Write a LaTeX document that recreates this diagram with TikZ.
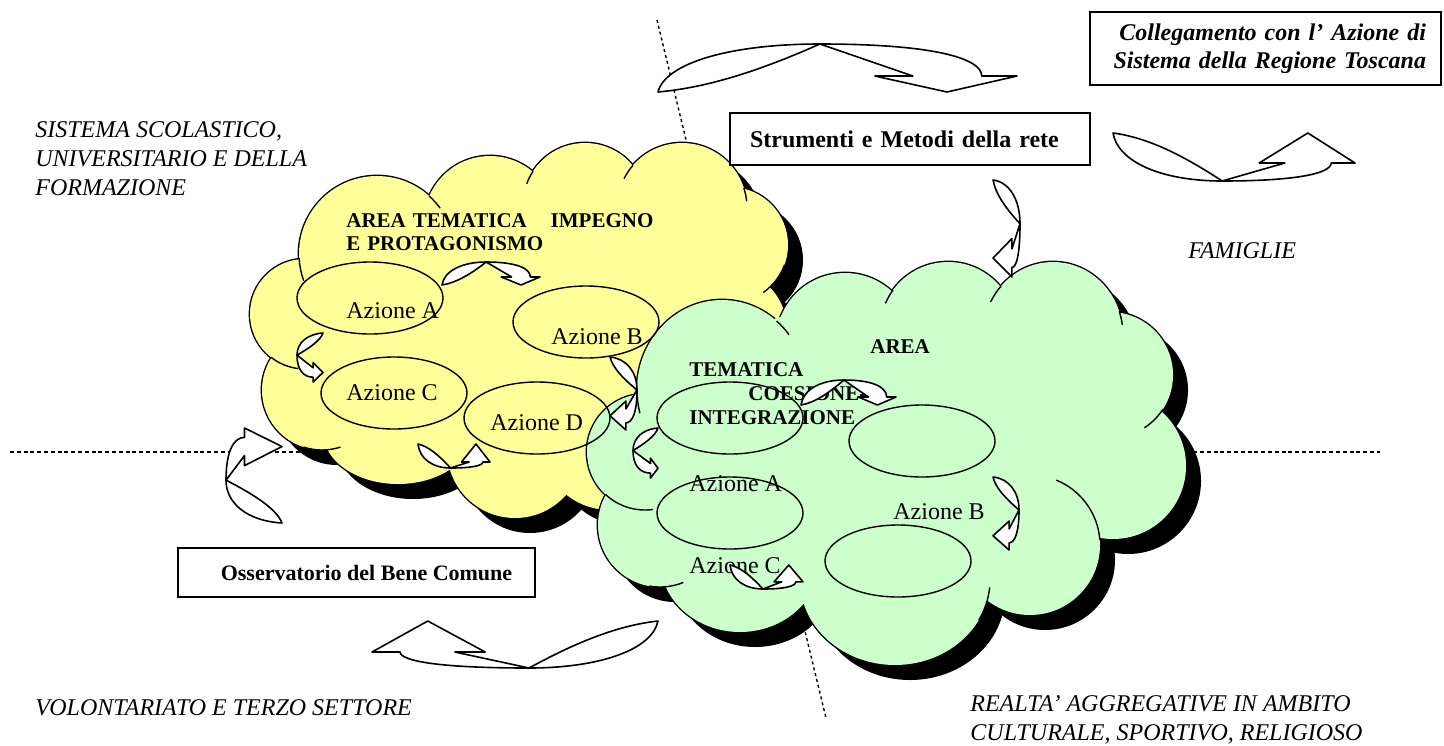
\documentclass[tikz,border=0pt]{standalone}
\usepackage{fontspec}
\setmainfont{Liberation Serif}
\usetikzlibrary{shapes.geometric}
\definecolor{cloudyellow}{HTML}{FFFF99}
\definecolor{cloudgreen}{HTML}{CCFFCC}
\tikzset{
    cloud edge/.style={draw=black, line width=1.4pt},
    cloud tail/.style={draw=black, line width=0.7pt},
    azione/.style={
        ellipse, draw, line width=0.7pt,
        minimum width=73pt, minimum height=36pt, inner sep=0pt
    },
    azione label/.style={
        anchor=base west, inner sep=0pt,
        font=\fontsize{12}{14}\selectfont
    },
    area title/.style={
        anchor=north west, inner sep=0pt, align=left,
        font=\fontsize{10.5}{11.8}\selectfont\bfseries
    },
    side text/.style={
        inner sep=0pt, align=left,
        font=\fontsize{12}{14.5}\selectfont\itshape
    },
    link box/.style={
        rectangle, draw, fill=white, line width=0.7pt,
        font=\fontsize{12}{14}\selectfont\bfseries
    },
    curve arrow/.style={draw, fill=white, line width=0.8pt, line join=round},
    border rule/.style={dash pattern=on 2pt off 1.4pt, line width=1pt},
    cut rule/.style={dash pattern=on 1.5pt off 1.5pt, line width=0.7pt},
    pics/bow arrow/.style={code={
        \path[curve arrow] (0,1) .. controls (0.02,0.4) and (0.2,0) .. (0.451,0)
            .. controls (0.75,0) and (0.9,0.4*#1) .. (0.902,#1)
            -- (1,#1) -- (0.805,1) -- (0.604,#1) -- (0.71,#1) -- (0.451,0)
            .. controls (0.3,0.5) and (0.15,0.9) .. (0,1) -- cycle;
    }},
    pics/bow arrow/.default=0.667,
    pics/side arrow/.style={code={
        \path[curve arrow] (1,1) .. controls (0.4,0.98) and (0,0.8) .. (0,0.549)
            .. controls (0,0.25) and (0.4*#1,0.1) .. (#1,0.098)
            -- (#1,0) -- (1,0.195) -- (#1,0.396) -- (#1,0.29) -- (0,0.549)
            .. controls (0.5,0.7) and (0.9,0.85) .. (1,1) -- cycle;
    }},
    pics/side arrow/.default=0.35,
}
% bumps of the two clouds: x/y/x radius/y radius
\def\yellowbumps{377/254/78/78, 305/314/55/55, 322/390/60/60, 398/432/75/52,
    515/450/68/68, 610/440/70/70, 680/390/50/50, 725/330/62/62, 730/245/58/58,
    682/208/65/65, 585/205/62/62, 490/222/66/66}
\def\greenbumps{722/390/85/90, 645/452/58/58, 660/525/62/62, 740/560/80/72,
    895/580/95/85, 1030/545/70/70, 1113/466/73/73, 1110/375/63/63,
    1053/335/70/73, 948/330/68/68, 845/342/69/69}

\begin{document}
\begin{tikzpicture}[x=0.5pt, y=-0.5pt]
    \useasboundingbox (0,0) rectangle (1444,745);

    % ── dotted borders ──
    \coordinate (rule west) at (10,452);
    \coordinate (rule east) at (1380,452);
    \coordinate (cut north) at (657,20);
    \coordinate (cut south) at (826,718);
    \draw[border rule] (rule west) -- (rule east);
    \draw[cut rule] (cut north) -- (cut south);

    % ── yellow cloud ──
    \begin{scope}[shift={(15,15)}]
        \foreach \cx/\cy/\rx/\ry in \yellowbumps
            \fill[black] (\cx,\cy) circle[x radius=\rx, y radius=\ry];
        \fill[black] (520,340) circle[x radius=200, y radius=115];
    \end{scope}
    \foreach \cx/\cy/\rx/\ry in \yellowbumps
        \draw[cloud edge, fill=cloudyellow] (\cx,\cy) circle[x radius=\rx, y radius=\ry];
    \foreach \cx/\cy/\rx/\ry in \yellowbumps
        \fill[cloudyellow] (\cx,\cy) circle[x radius=\rx, y radius=\ry];
    \fill[cloudyellow] (520,340) circle[x radius=200, y radius=115];
    \draw[cloud tail] (377,254) ++(-48:78) arc[start angle=-48, end angle=-36, radius=78];
    \draw[cloud tail] (585,205) ++(213:62) arc[start angle=213, end angle=200, radius=62];
    \draw[cloud tail] (682,208) ++(221:65) arc[start angle=221, end angle=207, radius=65];
    \draw[cloud tail] (682,208) ++(-18:65) arc[start angle=-18, end angle=-6, radius=65];
    \draw[cloud tail] (730,245) ++(20:58) arc[start angle=20, end angle=55, radius=58];
    \draw[cloud tail] (377,254) ++(177:78) arc[start angle=177, end angle=160, radius=78];
    \draw[cloud tail] (305,314) ++(128:55) arc[start angle=128, end angle=97, radius=55];
    \draw[cloud tail] (322,390) ++(108:60) arc[start angle=108, end angle=72, radius=60];

    % ── green cloud ──
    \begin{scope}[shift={(15,15)}]
        \foreach \cx/\cy/\rx/\ry in \greenbumps
            \fill[black] (\cx,\cy) circle[x radius=\rx, y radius=\ry];
        \fill[black] (890,440) circle[x radius=230, y radius=140];
    \end{scope}
    \foreach \cx/\cy/\rx/\ry in \greenbumps
        \draw[cloud edge, fill=cloudgreen] (\cx,\cy) circle[x radius=\rx, y radius=\ry];
    \foreach \cx/\cy/\rx/\ry in \greenbumps
        \fill[cloudgreen] (\cx,\cy) circle[x radius=\rx, y radius=\ry];
    \fill[cloudgreen] (890,440) circle[x radius=230, y radius=140];
    \draw[cloud tail] (722,390) ++(180:85 and 90) arc[start angle=180, end angle=165, x radius=85, y radius=90];
    \draw[cloud tail] (722,390) ++(-50:85 and 90) arc[start angle=-50, end angle=-38, x radius=85, y radius=90];
    \draw[cloud tail] (948,330) ++(216:68) arc[start angle=216, end angle=203, radius=68];
    \draw[cloud tail] (1053,335) ++(222:70 and 73) arc[start angle=222, end angle=207, x radius=70, y radius=73];
    \draw[cloud tail] (1053,335) ++(-19:70 and 73) arc[start angle=-19, end angle=-8, x radius=70, y radius=73];
    \draw[cloud tail] (1110,375) ++(33:63) arc[start angle=33, end angle=57, radius=63];
    \draw[cloud tail] (1030,545) ++(-4:70) arc[start angle=-4, end angle=-68, radius=70];
    \draw[cloud tail] (895,580) ++(28:95 and 85) arc[start angle=28, end angle=5, x radius=95, y radius=85];
    \draw[cloud tail] (660,525) ++(100:62) arc[start angle=100, end angle=68, radius=62];
    \draw[cloud tail] (645,452) ++(133:58) arc[start angle=133, end angle=82, radius=58];

    % ── actions ──
    \node[azione] (yellow a) at (370,298) {};
    \node[azione] (yellow b) at (586,322) {};
    \node[azione] (yellow c) at (394,393) {};
    \node[azione] (yellow d) at (537,418) {};
    \node[azione] (green a) at (730,418) {};
    \node[azione] (green b) at (922,441) {};
    \node[azione] (green c) at (730,513) {};
    \node[azione] (green d) at (898,561) {};

    \node[azione label] (yellow a label) at (346,318) {Azione A};
    \node[azione label] (yellow b label) at (551,344) {Azione B};
    \node[azione label] (yellow c label) at (346,400) {Azione C};
    \node[azione label] (yellow d label) at (490,430) {Azione D};
    \node[azione label] (green a label) at (689,491) {Azione A};
    \node[azione label] (green b label) at (893,519) {Azione B};
    \node[azione label] (green c label) at (689,573) {Azione C};

    \node[area title, text width=153.5pt] (impegno) at (346,213)
        {AREA TEMATICA\hfill IMPEGNO\\E PROTAGONISMO};
    \node[area title] (coesione) at (689,339)
        {\hspace*{90.5pt}AREA\\TEMATICA\\\hspace*{29.5pt}COESIONE-\\INTEGRAZIONE};

    % small curved arrows
    \pic[xscale=98, yscale=23] at (442,262) {bow arrow=0.65};
    \pic[xscale=26, yscale=-49] at (297,382) {side arrow=0.62};
    \pic[xscale=72, yscale=-24] at (418,468) {bow arrow=0.25};
    \pic[xscale=-27, yscale=-73] at (637,430) {side arrow=0.41};
    \pic[xscale=95, yscale=25] at (801,380) {bow arrow=0.68};
    \pic[xscale=25, yscale=-50] at (633,478) {side arrow=0.7};
    \pic[xscale=73, yscale=-24] at (730,589) {bow arrow=0.3};
    \pic[xscale=-26, yscale=-73] at (1019,550) {side arrow=0.38};
    \pic[xscale=-27, yscale=-97] at (1020,277) {side arrow=0.3};

    % ── large curved arrows ──
    \pic[xscale=359, yscale=48] at (658,44) {bow arrow=0.667};
    \pic[xscale=242, yscale=-48] at (1113,181) {bow arrow=0.375};
    \pic[xscale=-286, yscale=-47] at (658,668) {bow arrow=0.34};
    \pic[xscale=56, yscale=95] at (226,428) {side arrow=0.33};

    % ── boxes ──
    \node[link box, minimum width=175.5pt, minimum height=36.5pt,
          text width=160.5pt, inner xsep=7.5pt, align=right,
          font=\fontsize{12}{14}\selectfont\bfseries\itshape] (regione) at (1265.5,48.5)
        {Collegamento con l’ Azione di\\Sistema della Regione Toscana};
    \node[link box, minimum width=180pt, minimum height=26pt,
          text width=160pt, inner xsep=10pt, align=left] (strumenti) at (910,139)
        {Strumenti e Metodi della rete};
    \node[link box, minimum width=178.5pt, minimum height=24.5pt,
          font=\fontsize{11}{13}\selectfont\bfseries] (osservatorio) at (356.5,572.5)
        {\hspace*{10pt}Osservatorio del Bene Comune};

    % ── sectors ──
    \node[side text, anchor=north west] (scuola) at (35,121)
        {SISTEMA SCOLASTICO,\\UNIVERSITARIO E DELLA\\FORMAZIONE};
    \node[side text, anchor=base west] (famiglie) at (1188,258) {FAMIGLIE};
    \node[side text, anchor=base west] (volontariato) at (35,715)
        {VOLONTARIATO E TERZO SETTORE};
    \node[side text, anchor=north west] (realta) at (970,695)
        {REALTA’ AGGREGATIVE IN AMBITO\\CULTURALE, SPORTIVO, RELIGIOSO};

\end{tikzpicture}
\end{document}
